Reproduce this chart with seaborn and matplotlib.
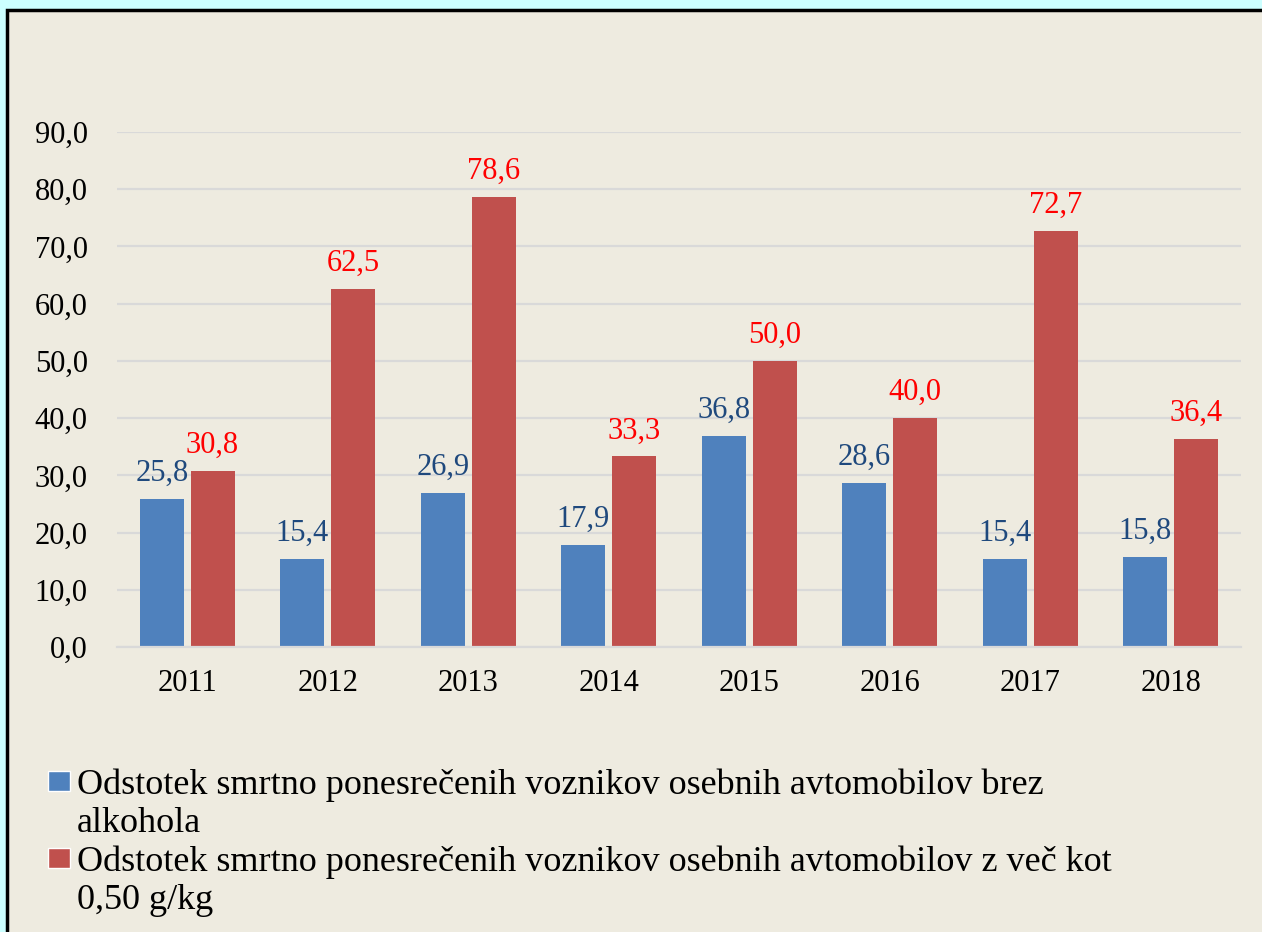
import numpy as np
import pandas as pd
import matplotlib.pyplot as plt
import seaborn as sns
from matplotlib.patches import Rectangle, Patch

# Data (percent)
years = ["2011", "2012", "2013", "2014", "2015", "2016", "2017", "2018"]
no_alcohol = [25.8, 15.4, 26.9, 17.9, 36.8, 28.6, 15.4, 15.8]
over_050 = [30.8, 62.5, 78.6, 33.3, 50.0, 40.0, 72.7, 36.4]
series_names = [
    "Odstotek smrtno ponesrečenih voznikov osebnih avtomobilov brez alkohola",
    "Odstotek smrtno ponesrečenih voznikov osebnih avtomobilov z več kot 0,50 g/kg",
]
# legend text as wrapped in the original
legend_lines = [
    ("Odstotek smrtno ponesrečenih voznikov osebnih avtomobilov brez", "alkohola"),
    ("Odstotek smrtno ponesrečenih voznikov osebnih avtomobilov z več kot", "0,50 g/kg"),
]

df = pd.DataFrame({
    "leto": years * 2,
    "odstotek": no_alcohol + over_050,
    "serija": [series_names[0]] * len(years) + [series_names[1]] * len(years),
})

sns.set_style("white")
plt.rcParams["font.family"] = ["Liberation Serif", "DejaVu Serif"]
plt.rcParams["text.color"] = "black"

fig = plt.figure(figsize=(12.62, 9.32), dpi=100)
fig.patch.set_facecolor("#CCFFFF")

# beige panel with black border
panel = Rectangle((7 / 1262, -0.1), 1.1, 1.1 - 10 / 932, transform=fig.transFigure,
                  facecolor="#EEEBE0", edgecolor="black", linewidth=2.5, zorder=-1)
fig.patches.append(panel)

ax = fig.add_axes([117 / 1262, 1 - 647 / 932, 1124 / 1262, (647 - 132) / 932])
ax.set_facecolor("none")

sns.barplot(data=df, x="leto", y="odstotek", hue="serija",
            palette=["#4F81BD", "#C0504D"], width=0.72, gap=0.13,
            saturation=1, legend=False, linewidth=0, ax=ax)

label_colors = ["#1F497D", "#FF0000"]
for cont, vals, col in zip(ax.containers, [no_alcohol, over_050], label_colors):
    ax.bar_label(cont, labels=[f"{v:.1f}".replace(".", ",") for v in vals],
                 padding=8, color=col, fontsize=22)

ax.set_ylim(0, 90)
ax.set_yticks(np.arange(0, 91, 10))
ax.set_yticklabels([f"{v:.1f}".replace(".", ",") for v in np.arange(0, 91, 10)])
ax.yaxis.grid(True, color="#D9D9D9", linewidth=1.6)
ax.set_axisbelow(True)
ax.tick_params(axis="y", length=0, pad=21, labelsize=22, labelcolor="black")
ax.tick_params(axis="x", length=0, pad=16, labelsize=22, labelcolor="black")
ax.set_xlabel("")
ax.set_ylabel("")
for s in ["top", "right", "left"]:
    ax.spines[s].set_visible(False)
ax.spines["bottom"].set_color("#D9D9D9")
ax.spines["bottom"].set_linewidth(1.6)

blank = Patch(facecolor="none", edgecolor="none")
handles = [Patch(facecolor="#4F81BD"), blank, Patch(facecolor="#C0504D"), blank]
labels = [legend_lines[0][0], legend_lines[0][1], legend_lines[1][0], legend_lines[1][1]]
fig.legend(handles, labels, loc="upper left", bbox_to_anchor=(48 / 1262, 1 - 768 / 932),
           frameon=False, fontsize=26, handlelength=0.6, handleheight=0.48,
           handletextpad=0.2, labelspacing=0.15, borderaxespad=0, borderpad=0,
           labelcolor="black")

fig.savefig("out.png", dpi=100, facecolor=fig.get_facecolor())
